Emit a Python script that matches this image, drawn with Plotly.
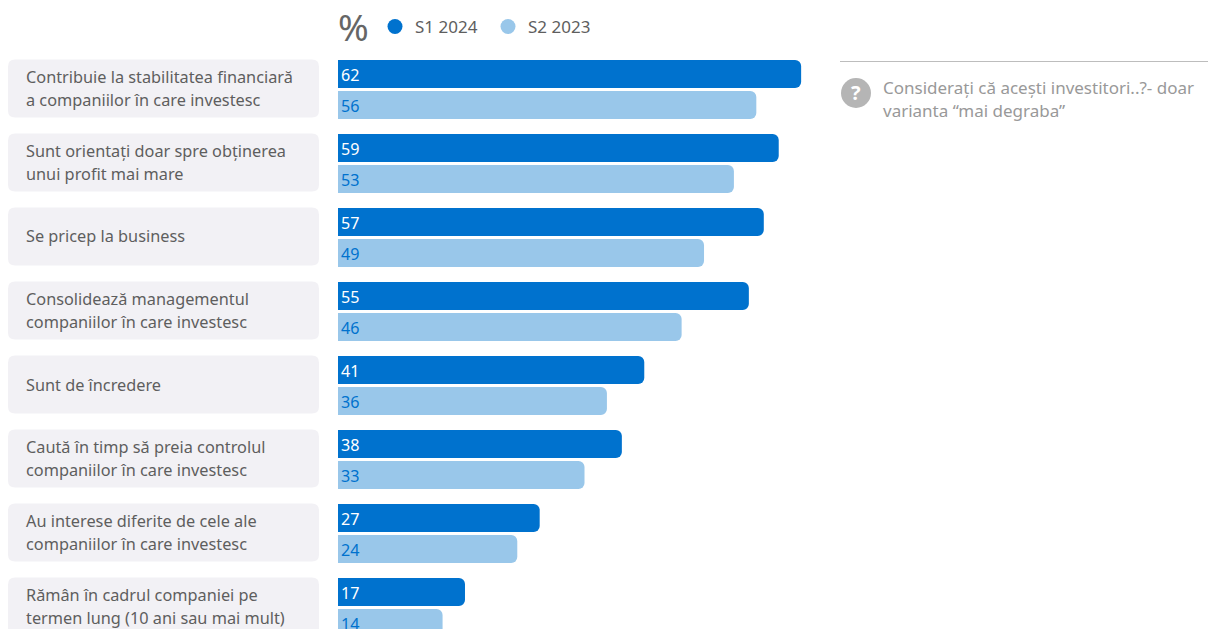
import plotly.graph_objects as go

categories = [
    ["Contribuie la stabilitatea financiară", "a companiilor în care investesc"],
    ["Sunt orientați doar spre obținerea", "unui profit mai mare"],
    ["Se pricep la business"],
    ["Consolidează managementul", "companiilor în care investesc"],
    ["Sunt de încredere"],
    ["Caută în timp să preia controlul", "companiilor în care investesc"],
    ["Au interese diferite de cele ale", "companiilor în care investesc"],
    ["Rămân în cadrul companiei pe", "termen lung (10 ani sau mai mult)"],
]
s1_2024 = [62, 59, 57, 55, 41, 38, 27, 17]
s2_2023 = [56, 53, 49, 46, 36, 33, 24, 14]
series_names = ["S1 2024", "S2 2023"]
note_lines = ["Considerați că acești investitori..?- doar", "varianta “mai degraba”"]

W, H = 1208, 629
DARK, LIGHT = "#0072CE", "#99C7EA"
PANEL, GREY = "#F2F1F5", "#5E5E5E"
FONT = "Noto Sans"

x0_px = 338
px_per_unit = 7.47
pitch = 74
first_center = 89.5
line_gap = 23
idx = list(range(len(categories)))

fig = go.Figure()
for name, vals, col, tcol in [
    (series_names[0], s1_2024, DARK, "white"),
    (series_names[1], s2_2023, LIGHT, DARK),
]:
    fig.add_trace(go.Bar(
        y=idx, x=vals, orientation="h", name=name, showlegend=False,
        marker=dict(color=col, line=dict(width=0), cornerradius=6),
        text=[str(v) for v in vals], textposition="inside", insidetextanchor="start",
        textangle=0, constraintext="none",
        textfont=dict(family=FONT, size=22, color=tcol), hoverinfo="skip",
    ))
    fig.add_trace(go.Scatter(
        x=[None], y=[None], mode="markers", name=name,
        marker=dict(color=col, size=15, symbol="circle"),
    ))


def px(v):
    return v / W


def py(v):
    return 1 - v / H


def rounded(x0, y0, x1, y1, r):
    a, b, c, d = px(x0), py(y0), px(x1), py(y1)
    rx, ry = r / W, r / H
    return (f"M {a+rx} {b} L {c-rx} {b} Q {c} {b} {c} {b-ry} L {c} {d+ry} Q {c} {d} {c-rx} {d} "
            f"L {a+rx} {d} Q {a} {d} {a} {d+ry} L {a} {b-ry} Q {a} {b} {a+rx} {b} Z")


def label(x, y, text, size, color, xanchor="left"):
    return dict(xref="paper", yref="paper", x=px(x), y=py(y), text=text, showarrow=False,
                xanchor=xanchor, yanchor="middle", align="left",
                font=dict(family=FONT, size=size, color=color))


shapes = []
annotations = []
for i, lines in enumerate(categories):
    cy = first_center + pitch * i - 1
    shapes.append(dict(type="path", xref="paper", yref="paper", layer="below",
                       path=rounded(8, cy - 29, 319, cy + 29, 7), fillcolor=PANEL,
                       line=dict(width=0)))
    for j, line in enumerate(lines):
        ly = cy + (j - (len(lines) - 1) / 2) * line_gap
        annotations.append(label(24, ly, line, 16.3, GREY))

shapes.append(dict(type="line", xref="paper", yref="paper", x0=px(840), x1=1, y0=py(61.5), y1=py(61.5),
                   line=dict(color="#BDBDBD", width=1)))
shapes.append(dict(type="circle", xref="paper", yref="paper", x0=px(841), x1=px(871), y0=py(78), y1=py(108),
                   fillcolor="#B5B5B5", line=dict(width=0)))
annotations += [
    label(856, 93, "<b>?</b>", 20, "white", "center"),
    label(881, 88, note_lines[0], 17, "#999999"),
    label(881, 110, note_lines[1], 17, "#999999"),
    label(353, 27, "%", 37, "#666666", "center"),
]

fig.update_layout(
    width=W, height=H, margin=dict(l=0, r=0, t=0, b=0), autosize=False,
    paper_bgcolor="white", plot_bgcolor="white", barmode="group", bargap=0.162, bargroupgap=0.097,
    shapes=shapes, annotations=annotations, hovermode=False,
    font=dict(family=FONT),
    xaxis=dict(domain=[x0_px / W, 1], range=[0, (W - x0_px) / px_per_unit], visible=False, fixedrange=True),
    yaxis=dict(range=[(H - first_center) / pitch, -first_center / pitch], visible=False, fixedrange=True),
    legend=dict(orientation="h", x=px(375), y=py(27), xanchor="left", yanchor="middle",
                entrywidth=68, entrywidthmode="pixels",
                font=dict(family=FONT, size=17, color=GREY), bgcolor="rgba(0,0,0,0)"),
)
fig.write_html("out.html", post_script="document.body.style.margin='0';document.body.style.overflow='hidden';",
               config=dict(displayModeBar=False))
